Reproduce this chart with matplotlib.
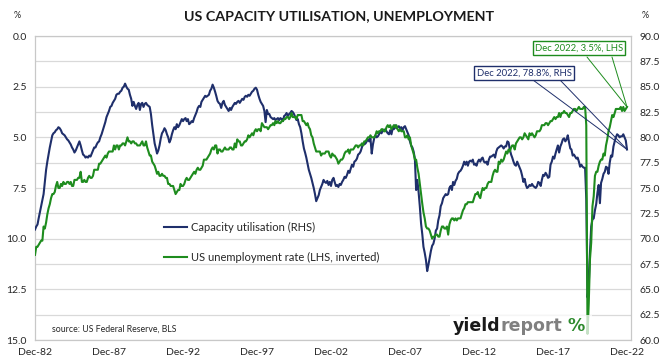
import matplotlib
matplotlib.use('Agg')
import matplotlib.pyplot as plt
import matplotlib.dates as mdates
import pandas as pd
from matplotlib.patches import ConnectionPatch

plt.rcParams['font.family'] = ['Lato', 'DejaVu Sans']

# ---------------- data (monthly, Dec 1982 - Dec 2022) ----------------
dates = pd.date_range('1982-12-01', '2022-12-01', freq='MS')

unemployment_rate = [
    10.8,
    10.4, 10.4, 10.3, 10.2, 10.1, 10.1, 9.4, 9.5, 9.2, 8.8, 8.5, 8.3,   # 1983
    8.0, 7.8, 7.8, 7.7, 7.4, 7.2, 7.5, 7.5, 7.3, 7.4, 7.2, 7.3,          # 1984
    7.3, 7.2, 7.2, 7.3, 7.2, 7.4, 7.4, 7.1, 7.1, 7.1, 7.0, 7.0,          # 1985
    6.7, 7.2, 7.2, 7.1, 7.2, 7.2, 7.0, 6.9, 7.0, 7.0, 6.9, 6.6,          # 1986
    6.6, 6.6, 6.6, 6.3, 6.3, 6.2, 6.1, 6.0, 5.9, 6.0, 5.8, 5.7,          # 1987
    5.7, 5.7, 5.7, 5.4, 5.6, 5.4, 5.4, 5.6, 5.4, 5.4, 5.3, 5.3,          # 1988
    5.4, 5.2, 5.0, 5.2, 5.2, 5.3, 5.2, 5.2, 5.3, 5.3, 5.4, 5.4,          # 1989
    5.4, 5.3, 5.2, 5.4, 5.4, 5.2, 5.5, 5.7, 5.9, 5.9, 6.2, 6.3,          # 1990
    6.4, 6.6, 6.8, 6.7, 6.9, 6.9, 6.8, 6.9, 6.9, 7.0, 7.0, 7.3,          # 1991
    7.3, 7.4, 7.4, 7.4, 7.6, 7.8, 7.7, 7.6, 7.6, 7.3, 7.4, 7.4,          # 1992
    7.3, 7.1, 7.0, 7.1, 7.1, 7.0, 6.9, 6.8, 6.7, 6.8, 6.6, 6.5,          # 1993
    6.6, 6.6, 6.5, 6.4, 6.1, 6.1, 6.1, 6.0, 5.9, 5.8, 5.6, 5.5,          # 1994
    5.6, 5.4, 5.4, 5.8, 5.6, 5.6, 5.7, 5.7, 5.6, 5.5, 5.6, 5.6,          # 1995
    5.6, 5.5, 5.5, 5.6, 5.6, 5.3, 5.5, 5.1, 5.2, 5.2, 5.4, 5.4,          # 1996
    5.3, 5.2, 5.2, 5.1, 4.9, 5.0, 4.9, 4.8, 4.9, 4.7, 4.6, 4.7,          # 1997
    4.6, 4.6, 4.7, 4.3, 4.4, 4.5, 4.5, 4.5, 4.6, 4.5, 4.4, 4.4,          # 1998
    4.3, 4.4, 4.2, 4.3, 4.2, 4.3, 4.3, 4.2, 4.2, 4.1, 4.1, 4.0,          # 1999
    4.0, 4.1, 4.0, 3.8, 4.0, 4.0, 4.0, 4.1, 3.9, 3.9, 3.9, 3.9,          # 2000
    4.2, 4.2, 4.3, 4.4, 4.3, 4.5, 4.6, 4.9, 5.0, 5.3, 5.5, 5.7,          # 2001
    5.7, 5.7, 5.7, 5.9, 5.8, 5.8, 5.8, 5.7, 5.7, 5.7, 5.9, 6.0,          # 2002
    5.8, 5.9, 5.9, 6.0, 6.1, 6.3, 6.2, 6.1, 6.1, 6.0, 5.8, 5.7,          # 2003
    5.7, 5.6, 5.8, 5.6, 5.6, 5.6, 5.5, 5.4, 5.4, 5.5, 5.4, 5.4,          # 2004
    5.3, 5.4, 5.2, 5.2, 5.1, 5.0, 5.0, 4.9, 5.0, 5.0, 5.0, 4.9,          # 2005
    4.7, 4.8, 4.7, 4.7, 4.6, 4.6, 4.7, 4.7, 4.5, 4.4, 4.5, 4.4,          # 2006
    4.6, 4.5, 4.4, 4.5, 4.4, 4.6, 4.7, 4.6, 4.7, 4.7, 4.7, 5.0,          # 2007
    5.0, 4.9, 5.1, 5.0, 5.4, 5.6, 5.8, 6.1, 6.1, 6.5, 6.8, 7.3,          # 2008
    7.8, 8.3, 8.7, 9.0, 9.4, 9.5, 9.5, 9.6, 9.8, 10.0, 9.9, 9.9,         # 2009
    9.8, 9.8, 9.9, 9.9, 9.6, 9.4, 9.4, 9.5, 9.5, 9.4, 9.8, 9.3,          # 2010
    9.1, 9.0, 9.0, 9.1, 9.0, 9.1, 9.0, 9.0, 9.0, 8.8, 8.6, 8.5,          # 2011
    8.3, 8.3, 8.2, 8.2, 8.2, 8.2, 8.2, 8.0, 7.8, 7.8, 7.7, 7.9,          # 2012
    8.0, 7.7, 7.5, 7.6, 7.5, 7.5, 7.3, 7.2, 7.2, 7.2, 6.9, 6.7,          # 2013
    6.6, 6.7, 6.7, 6.2, 6.3, 6.1, 6.2, 6.1, 5.9, 5.7, 5.8, 5.6,          # 2014
    5.7, 5.5, 5.4, 5.4, 5.6, 5.3, 5.2, 5.1, 5.0, 5.0, 5.1, 5.0,          # 2015
    4.8, 4.9, 5.0, 5.1, 4.8, 4.9, 4.8, 4.9, 5.0, 4.9, 4.7, 4.7,          # 2016
    4.7, 4.6, 4.4, 4.4, 4.4, 4.3, 4.3, 4.4, 4.3, 4.2, 4.2, 4.1,          # 2017
    4.0, 4.1, 4.0, 4.0, 3.8, 4.0, 3.8, 3.8, 3.7, 3.8, 3.8, 3.9,          # 2018
    4.0, 3.8, 3.8, 3.7, 3.6, 3.6, 3.7, 3.6, 3.5, 3.6, 3.6, 3.6,          # 2019
    3.5, 3.5, 4.4, 14.7, 13.2, 11.0, 10.2, 8.4, 7.9, 6.9, 6.7, 6.7,      # 2020
    6.4, 6.2, 6.1, 6.1, 5.8, 5.9, 5.4, 5.1, 4.7, 4.5, 4.2, 3.9,          # 2021
    4.0, 3.8, 3.6, 3.6, 3.6, 3.6, 3.5, 3.7, 3.5, 3.7, 3.6, 3.5,          # 2022
]

capacity_utilisation = [
    70.9,
    71.2, 71.4, 72.0, 72.6, 73.2, 73.8, 74.4, 75.6, 76.8, 77.6, 78.3, 79.0,   # 1983
    79.6, 80.2, 80.4, 80.5, 80.7, 80.8, 81.0, 80.9, 80.7, 80.4, 80.3, 80.2,   # 1984
    80.0, 79.8, 79.7, 79.5, 79.3, 79.0, 78.8, 78.5, 78.7, 79.0, 79.3, 79.6,   # 1985
    79.2, 78.7, 78.3, 78.2, 78.0, 78.1, 78.0, 78.2, 78.1, 78.4, 78.7, 79.0,   # 1986
    79.0, 79.3, 79.5, 79.6, 80.0, 80.3, 80.7, 81.1, 81.5, 82.0, 82.3, 82.6,   # 1987
    83.0, 83.1, 83.4, 83.6, 83.8, 84.2, 84.3, 84.3, 84.5, 84.6, 84.9, 85.0,   # 1988
    85.3, 85.0, 84.8, 84.7, 84.2, 83.8, 83.1, 83.5, 83.1, 82.8, 83.2, 83.4,   # 1989
    82.7, 83.3, 83.4, 83.0, 83.3, 83.4, 83.2, 83.1, 83.0, 82.3, 81.2, 80.3,   # 1990
    79.4, 78.9, 78.4, 78.7, 79.2, 79.9, 80.4, 80.6, 80.9, 80.7, 80.3, 80.0,   # 1991
    79.5, 79.8, 80.3, 80.7, 81.0, 80.8, 81.3, 81.0, 81.2, 81.5, 81.8, 81.6,   # 1992
    81.8, 81.9, 81.6, 81.8, 81.3, 81.4, 81.6, 81.5, 81.9, 82.2, 82.5, 82.9,   # 1993
    83.1, 83.0, 83.5, 83.7, 83.9, 84.1, 84.0, 84.1, 84.2, 84.6, 84.8, 85.2,   # 1994
    84.9, 84.5, 84.1, 83.6, 83.4, 83.3, 82.9, 83.4, 83.6, 83.2, 83.0, 82.8,   # 1995
    82.6, 82.9, 82.7, 83.0, 83.2, 83.4, 83.3, 83.5, 83.6, 83.4, 83.6, 83.8,   # 1996
    83.7, 84.0, 84.1, 84.0, 84.2, 84.1, 84.3, 84.5, 84.6, 84.8, 84.9, 84.7,   # 1997
    84.2, 83.8, 83.5, 83.3, 83.1, 82.6, 81.5, 82.7, 82.3, 82.3, 82.0, 81.9,   # 1998
    81.8, 81.9, 81.7, 81.8, 81.9, 81.7, 81.9, 81.8, 81.6, 82.1, 82.2, 82.4,   # 1999
    82.1, 82.3, 82.4, 82.6, 82.5, 82.3, 82.0, 81.7, 81.8, 81.3, 81.0, 80.4,   # 2000
    79.6, 78.9, 78.5, 78.0, 77.4, 76.8, 76.4, 76.0, 75.5, 75.0, 74.4, 73.7,   # 2001
    74.0, 74.3, 74.8, 75.1, 75.4, 75.8, 75.6, 75.5, 75.7, 75.3, 75.6, 75.2,   # 2002
    75.8, 76.0, 75.6, 75.2, 75.3, 75.1, 75.4, 75.3, 75.6, 75.8, 76.1, 76.0,   # 2003
    76.3, 76.7, 76.5, 76.9, 77.3, 77.1, 77.6, 77.7, 77.9, 78.3, 78.4, 78.6,   # 2004
    79.0, 79.4, 79.3, 79.4, 79.6, 79.8, 79.6, 79.9, 78.4, 79.3, 79.9, 80.2,   # 2005
    80.0, 80.1, 80.3, 80.6, 80.4, 80.7, 80.6, 80.8, 80.6, 80.4, 80.3, 80.7,   # 2006
    80.3, 80.9, 80.8, 81.2, 80.9, 81.0, 81.1, 80.9, 81.0, 80.7, 81.0, 81.1,   # 2007
    80.8, 80.5, 80.2, 79.6, 79.2, 79.0, 78.6, 77.9, 74.8, 75.8, 74.6, 73.2,   # 2008
    71.5, 70.4, 69.2, 68.6, 67.9, 66.8, 67.4, 68.1, 68.8, 69.3, 69.5, 70.0,   # 2009
    70.8, 71.0, 71.8, 72.3, 73.2, 73.5, 74.0, 74.2, 74.4, 74.3, 74.4, 75.0,   # 2010
    75.2, 74.8, 75.6, 75.3, 75.7, 75.9, 76.4, 76.6, 76.7, 76.9, 77.2, 77.6,   # 2011
    77.3, 77.6, 77.2, 77.6, 77.7, 77.6, 77.8, 77.3, 77.4, 77.2, 77.6, 77.8,   # 2012
    77.6, 77.9, 78.0, 77.6, 77.5, 77.6, 77.3, 77.8, 78.1, 78.1, 78.2, 78.3,   # 2013
    78.0, 78.6, 78.9, 79.0, 79.1, 79.2, 79.1, 78.9, 79.1, 79.1, 79.6, 79.5,   # 2014
    78.8, 78.3, 78.0, 77.6, 77.3, 77.2, 77.6, 77.3, 77.0, 76.7, 76.2, 75.6,   # 2015
    75.9, 75.3, 75.0, 75.1, 75.3, 75.2, 75.4, 75.2, 75.1, 75.0, 75.2, 75.6,   # 2016
    75.5, 75.2, 75.8, 76.3, 76.2, 76.5, 76.3, 76.0, 76.1, 77.3, 77.6, 78.1,   # 2017
    77.9, 78.4, 78.8, 79.2, 78.5, 79.1, 79.4, 79.8, 79.9, 79.6, 79.8, 80.2,   # 2018
    79.5, 78.9, 78.8, 78.2, 78.3, 78.1, 77.9, 78.0, 77.6, 77.1, 77.3, 77.1,   # 2019
    77.0, 77.0, 73.9, 64.2, 65.4, 68.7, 71.2, 71.9, 72.0, 72.8, 73.4, 74.5,   # 2020
    75.3, 73.5, 75.5, 75.9, 76.4, 76.6, 77.1, 77.0, 76.4, 77.5, 78.2, 78.1,   # 2021
    79.1, 79.6, 80.0, 80.3, 80.2, 80.0, 80.1, 80.1, 80.3, 80.0, 79.7, 78.8,   # 2022
]

tick_dates = ['1982-12-01', '1987-12-01', '1992-12-01', '1997-12-01', '2002-12-01',
              '2007-12-01', '2012-12-01', '2017-12-01', '2022-12-01']
tick_labels = ['Dec-82', 'Dec-87', 'Dec-92', 'Dec-97', 'Dec-02',
               'Dec-07', 'Dec-12', 'Dec-17', 'Dec-22']
left_ticks = [0.0, 2.5, 5.0, 7.5, 10.0, 12.5, 15.0]
right_ticks = [60.0, 62.5, 65.0, 67.5, 70.0, 72.5, 75.0, 77.5, 80.0, 82.5, 85.0, 87.5, 90.0]

title = 'US CAPACITY UTILISATION, UNEMPLOYMENT'
label_cap = 'Capacity utilisation (RHS)'
label_unemp = 'US unemployment rate (LHS, inverted)'
note_unemp = 'Dec 2022, 3.5%, LHS'
note_cap = 'Dec 2022, 78.8%, RHS'
source = 'source: US Federal Reserve, BLS'
logo_parts = ['yield', 'report', '%']

NAVY = '#1f2f6b'
GREEN = '#1e8c1e'
GRID = '#d9d9d9'
TXT = '#262626'

W, H = 662, 363
fig = plt.figure(figsize=(W / 100, H / 100), dpi=100)
fig.patch.set_facecolor('white')

def fx(px):
    return px / W

def fy(py):
    return 1 - py / H

ax = fig.add_axes([fx(35), fy(340), fx(631) - fx(35), fy(36) - fy(340)])
ax.plot(dates, capacity_utilisation, color=NAVY, lw=1.5, label=label_cap, zorder=3)
ax.set_ylim(60, 90)
ax.set_yticks(right_ticks)
ax.set_yticklabels([f'{v:.1f}' for v in right_ticks])
ax.grid(axis='y', color=GRID, lw=0.9)
ax.set_axisbelow(True)
ax.set_xlim(pd.Timestamp('1982-12-01'), pd.Timestamp('2023-03-10'))
ax.set_xticks(pd.to_datetime(tick_dates))
ax.set_xticklabels(tick_labels)
for s in ax.spines.values():
    s.set_color('#c8c8c8')
    s.set_linewidth(0.9)

ax2 = ax.twinx()
ax2.plot(dates, unemployment_rate, color=GREEN, lw=1.5, label=label_unemp, zorder=3)
ax2.set_ylim(15, 0)
ax2.set_yticks(left_ticks)
ax2.set_yticklabels([f'{v:.1f}' for v in left_ticks])
for s in ax2.spines.values():
    s.set_visible(False)

# put the capacity axis on the right, unemployment axis on the left
ax.yaxis.tick_right()
ax2.yaxis.tick_left()
ax.tick_params(axis='both', length=0, labelsize=7.5, colors=TXT)
ax.tick_params(axis='y', pad=6)
ax.tick_params(axis='x', pad=6)
ax2.tick_params(axis='y', length=0, labelsize=7.5, colors=TXT, pad=6)

# legend
h1 = ax.get_lines()[0]
h2 = ax2.get_lines()[0]
ax2.legend([h1, h2], [label_cap, label_unemp], loc='upper left',
           bbox_to_anchor=(fx(164), fy(222)), bbox_transform=fig.transFigure,
           frameon=False, fontsize=8, labelspacing=1.7, handlelength=2.1,
           handletextpad=0.35, borderpad=0, borderaxespad=0, labelcolor=TXT)

# titles and axis unit labels
fig.text(fx(339), fy(16), title, ha='center', va='center', fontsize=10.3,
         fontweight='bold', color='#1a1a1a')
fig.text(fx(17), fy(16), '%', ha='center', va='center', fontsize=6.5, color=TXT)
fig.text(fx(645), fy(16), '%', ha='center', va='center', fontsize=6.5, color=TXT)

# source
fig.text(fx(52), fy(329), source, ha='left', va='center', fontsize=6.3, color=TXT)

# logo
logo_bg = plt.Rectangle((fx(450), fy(338)), fx(592) - fx(450), fy(315) - fy(338),
                        transform=fig.transFigure, facecolor='white', alpha=0.75,
                        edgecolor='none', zorder=5)
fig.patches.append(logo_bg)
renderer = fig.canvas.get_renderer()
logo_colors = ['#1a1a1a', '#808080', '#2e8b2e']
x_px = 453
for part, col in zip(logo_parts, logo_colors):
    t = fig.text(fx(x_px), fy(326), part, ha='left', va='center', fontsize=12.5,
                 fontweight='bold', color=col, zorder=6, family='DejaVu Sans')
    bb = t.get_window_extent(renderer=renderer)
    x_px += bb.width + (5 if part == 'report' else 0)

# annotations
end_x = mdates.date2num(dates[-1])

def callout(text, color, center, base_pts, target_ax, target_val):
    fig.text(fx(center[0]), fy(center[1]), text, ha='center', va='center',
             fontsize=6.8, color=color, zorder=7,
             bbox=dict(boxstyle='square,pad=0.25', facecolor='white',
                       edgecolor=color, linewidth=1.0))
    for bx in base_pts:
        con = ConnectionPatch(xyA=(end_x, target_val), coordsA=target_ax.transData,
                              xyB=(fx(bx[0]), fy(bx[1])), coordsB=fig.transFigure,
                              color=color, lw=0.7, zorder=6)
        fig.add_artist(con)

callout(note_unemp, GREEN, (579, 48), [(587, 57), (612, 57)], ax2, unemployment_rate[-1])
callout(note_cap, NAVY, (524, 73), [(533, 80), (560, 80)], ax, capacity_utilisation[-1])

fig.savefig('out.png', dpi=100, facecolor='white')
